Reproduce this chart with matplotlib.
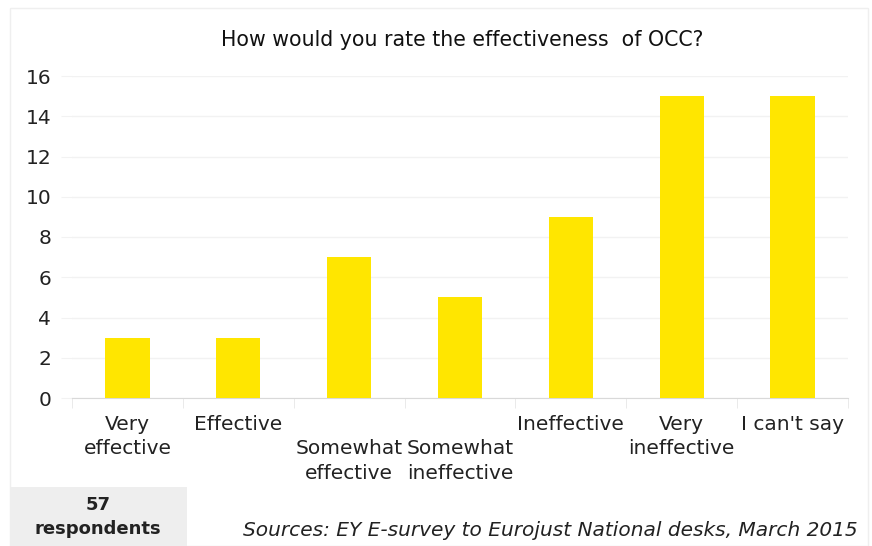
import matplotlib
matplotlib.use("Agg")
import matplotlib.pyplot as plt
from matplotlib.patches import Rectangle
from matplotlib.ticker import MultipleLocator, FixedLocator

categories = ["Very\neffective", "Effective", "\nSomewhat\neffective", "\nSomewhat\nineffective",
              "Ineffective", "Very\nineffective", "I can't say"]
values = [3, 3, 7, 5, 9, 15, 15]
title = "How would you rate the effectiveness  of OCC?"
source = "Sources: EY E-survey to Eurojust National desks, March 2015"
respondents = "57\nrespondents"

plt.rcParams['font.family'] = ['DejaVu Sans']

fig = plt.figure(figsize=(8.72, 5.46), dpi=100)
fig.patch.set_facecolor("white")
# faint chart border
fig.patches.append(Rectangle((10/872, 0), 858/872, 538/546, transform=fig.transFigure,
                             fill=False, edgecolor="#EFEFEF", lw=1))

ax = fig.add_axes([72/872, 148/546, 776/872, 322/546])
x = range(len(categories))
ax.bar(x, values, width=0.4, color="#FFE600", zorder=3)
ax.set_xlim(-0.5, len(categories) - 0.5)
ax.set_ylim(0, 16)
ax.yaxis.set_major_locator(MultipleLocator(2))
ax.grid(axis="y", color="#F2F2F2", lw=1, zorder=0)
for s in ["top", "right", "left"]:
    ax.spines[s].set_visible(False)
ax.spines["bottom"].set_color("#D9D9D9")
ax.set_xticks(list(x))
ax.set_xticklabels(categories, fontsize=14.5, color="#222222", linespacing=1.38)
ax.tick_params(axis="x", length=0, pad=12)
ax.xaxis.set_minor_locator(FixedLocator([i + 0.5 for i in range(-1, len(categories))]))
ax.tick_params(axis="x", which="minor", length=7, color="#E6E6E6")
ax.tick_params(axis="y", length=8, color="#F2F2F2", labelsize=14.5, labelcolor="#222222", pad=7)

fig.text(462/872, 1 - 40/546, title, ha="center", va="center", fontsize=14.8, color="#111111")

fig.patches.append(Rectangle((10/872, 0), 177/872, 59/546, transform=fig.transFigure,
                             facecolor="#EEEEEE", edgecolor="none"))
fig.text(98/872, 1 - 517/546, respondents, ha="center", va="center", fontsize=13,
         fontweight="bold", color="#222222", linespacing=1.4)
fig.text(858/872, 1 - 531/546, source, ha="right", va="center", fontsize=14.5,
         style="italic", color="#222222")

fig.savefig("out.png", dpi=100)
